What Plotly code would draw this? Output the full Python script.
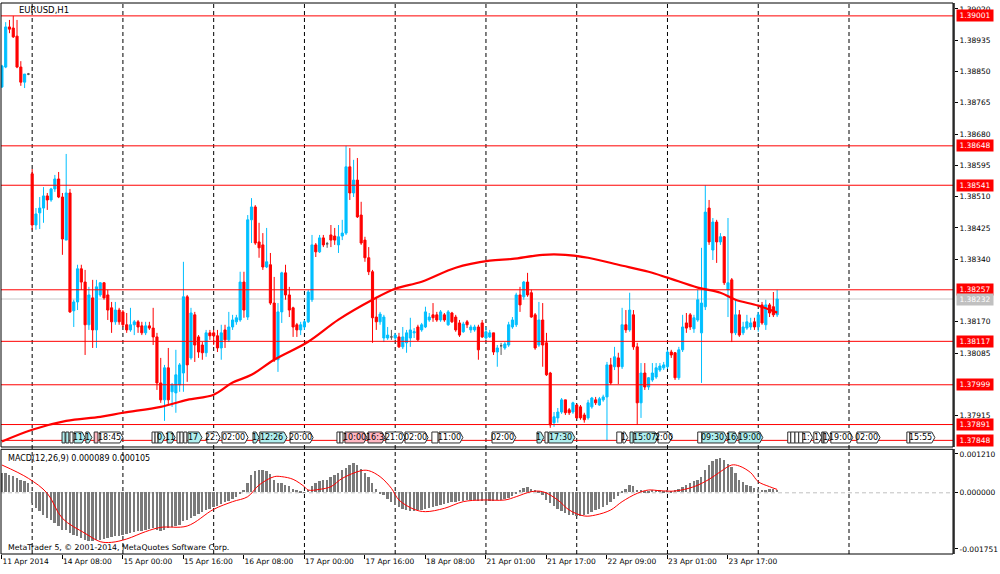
import numpy as np
import plotly.graph_objects as go

# ---------------- data ----------------
bar_open = [
 1.38808,1.38862,1.38971,1.38968,1.38946,1.38862,1.38821,1.38843,1.38572,1.38433,
 1.38466,1.38479,1.38512,1.38501,1.38531,1.38558,1.38509,1.38392,1.38520,1.38200,
 1.38224,1.38314,1.38278,1.38162,1.38235,1.38148,1.38243,1.38276,1.38243,1.38208,
 1.38170,1.38202,1.38197,1.38162,1.38148,1.38162,1.38170,1.38159,1.38140,1.38159,
 1.38153,1.38129,1.38004,1.37958,1.38045,1.37980,1.37977,1.37999,1.38031,1.38238,
 1.38072,1.38189,1.38129,1.38107,1.38086,1.38140,1.38140,1.38132,1.38099,1.38148,
 1.38121,1.38156,1.38170,1.38175,1.38278,1.38183,1.38447,1.38482,1.38387,1.38379,
 1.38319,1.38325,1.38221,1.38067,1.38197,1.38303,1.38243,1.38208,1.38162,1.38148,
 1.38156,1.38170,1.38230,1.38379,1.38360,1.38398,1.38382,1.38406,1.38403,1.38379,
 1.38403,1.38411,1.38591,1.38520,1.38555,1.38460,1.38392,1.38344,1.38306,1.38183,
 1.38170,1.38126,1.38126,1.38129,1.38126,1.38129,1.38102,1.38113,1.38126,1.38140,
 1.38156,1.38148,1.38156,1.38175,1.38189,1.38189,1.38175,1.38189,1.38162,1.38194,
 1.38183,1.38167,1.38143,1.38170,1.38148,1.38148,1.38156,1.38167,1.38126,1.38129,
 1.38140,1.38088,1.38105,1.38099,1.38107,1.38156,1.38162,1.38243,1.38238,1.38278,
 1.38249,1.38189,1.38107,1.38175,1.38113,1.38031,1.37896,1.37909,1.37925,1.37958,
 1.37931,1.37925,1.37944,1.37939,1.37917,1.37909,1.37939,1.37958,1.37944,1.37958,
 1.37966,1.38053,1.38048,1.38072,1.38048,1.38162,1.38148,1.38189,1.38102,1.37950,
 1.38031,1.37993,1.38012,1.38020,1.38039,1.38045,1.38048,1.38088,1.38086,1.38018,
 1.38094,1.38167,1.38189,1.38151,1.38175,1.38140,1.38211,1.38479,1.38365,1.38441,
 1.38387,1.38401,1.38257,1.38284,1.38140,1.38189,1.38140,1.38153,1.38156,1.38170,
 1.38156,1.38216,1.38162,1.38216,1.38211,1.38189]
bar_high = [
 1.38868,1.38984,1.38990,1.39001,1.38990,1.38878,1.38843,1.38846,1.38585,1.38479,
 1.38509,1.38536,1.38520,1.38534,1.38569,1.38577,1.38520,1.38626,1.38531,1.38230,
 1.38325,1.38325,1.38311,1.38265,1.38284,1.38284,1.38278,1.38278,1.38257,1.38224,
 1.38224,1.38208,1.38202,1.38194,1.38208,1.38175,1.38175,1.38170,1.38170,1.38170,
 1.38208,1.38140,1.38072,1.38053,1.38099,1.38004,1.38094,1.38058,1.38333,1.38243,
 1.38208,1.38197,1.38134,1.38115,1.38148,1.38148,1.38148,1.38148,1.38162,1.38162,
 1.38197,1.38189,1.38189,1.38306,1.38306,1.38460,1.38506,1.38487,1.38439,1.38411,
 1.38425,1.38357,1.38292,1.38221,1.38306,1.38325,1.38265,1.38211,1.38167,1.38170,
 1.38175,1.38257,1.38406,1.38384,1.38406,1.38406,1.38387,1.38433,1.38425,1.38433,
 1.38447,1.38648,1.38642,1.38610,1.38615,1.38496,1.38401,1.38373,1.38311,1.38238,
 1.38197,1.38189,1.38156,1.38148,1.38140,1.38140,1.38156,1.38148,1.38181,1.38153,
 1.38162,1.38167,1.38211,1.38194,1.38221,1.38197,1.38202,1.38194,1.38202,1.38197,
 1.38189,1.38175,1.38170,1.38175,1.38162,1.38162,1.38162,1.38175,1.38156,1.38148,
 1.38140,1.38107,1.38113,1.38115,1.38170,1.38183,1.38249,1.38265,1.38281,1.38303,
 1.38257,1.38194,1.38224,1.38221,1.38140,1.38034,1.37925,1.37936,1.37963,1.37958,
 1.37936,1.37953,1.37947,1.37944,1.37923,1.37958,1.37966,1.37966,1.37966,1.37972,
 1.38061,1.38072,1.38102,1.38086,1.38208,1.38202,1.38249,1.38202,1.38113,1.38058,
 1.38058,1.38020,1.38058,1.38058,1.38058,1.38061,1.38094,1.38094,1.38088,1.38102,
 1.38189,1.38194,1.38194,1.38189,1.38257,1.38371,1.38541,1.38501,1.38452,1.38447,
 1.38411,1.38403,1.38452,1.38289,1.38230,1.38202,1.38170,1.38189,1.38181,1.38181,
 1.38197,1.38224,1.38230,1.38221,1.38251,1.38257]
bar_low = [
 1.38805,1.38859,1.38954,1.38941,1.38859,1.38811,1.38805,1.38840,1.38420,1.38420,
 1.38422,1.38439,1.38474,1.38496,1.38523,1.38506,1.38352,1.38392,1.38194,1.38156,
 1.38202,1.38257,1.38080,1.38148,1.38099,1.38099,1.38238,1.38230,1.38175,1.38140,
 1.38162,1.38162,1.38156,1.38140,1.38143,1.38134,1.38140,1.38134,1.38134,1.38148,
 1.38107,1.37985,1.37950,1.37901,1.37944,1.37939,1.37923,1.37980,1.37980,1.38007,
 1.38067,1.38061,1.38072,1.38067,1.38075,1.38121,1.38107,1.38088,1.38067,1.38099,
 1.38115,1.38148,1.38162,1.38170,1.38181,1.38175,1.38384,1.38379,1.38344,1.38311,
 1.38316,1.38216,1.38061,1.38034,1.38167,1.38230,1.38183,1.38129,1.38129,1.38134,
 1.38148,1.38167,1.38224,1.38346,1.38357,1.38373,1.38371,1.38373,1.38379,1.38357,
 1.38392,1.38406,1.38501,1.38509,1.38452,1.38379,1.38333,1.38297,1.38113,1.38148,
 1.38162,1.38115,1.38121,1.38121,1.38121,1.38099,1.38096,1.38086,1.38102,1.38126,
 1.38118,1.38143,1.38153,1.38170,1.38170,1.38170,1.38170,1.38170,1.38159,1.38167,
 1.38143,1.38129,1.38140,1.38153,1.38140,1.38143,1.38067,1.38126,1.38121,1.38126,
 1.38080,1.38048,1.38080,1.38094,1.38102,1.38151,1.38156,1.38197,1.38230,1.38238,
 1.38181,1.38094,1.38102,1.38048,1.38023,1.37882,1.37885,1.37896,1.37920,1.37917,
 1.37917,1.37920,1.37906,1.37904,1.37896,1.37904,1.37934,1.37944,1.37942,1.37953,
 1.37848,1.37999,1.38039,1.38001,1.38042,1.38140,1.38143,1.38094,1.37890,1.37909,
 1.37985,1.37985,1.38007,1.38015,1.38034,1.38039,1.38042,1.38072,1.38012,1.38012,
 1.38088,1.38140,1.38148,1.38140,1.38170,1.38004,1.38202,1.38379,1.38338,1.38330,
 1.38379,1.38270,1.38183,1.38115,1.38134,1.38129,1.38134,1.38148,1.38148,1.38148,
 1.38143,1.38162,1.38148,1.38183,1.38183,1.38183]
bar_close = [
 1.38865,1.38971,1.38965,1.38944,1.38862,1.38821,1.38843,1.38843,1.38433,1.38463,
 1.38479,1.38512,1.38501,1.38531,1.38558,1.38509,1.38395,1.38520,1.38197,1.38224,
 1.38314,1.38278,1.38162,1.38243,1.38148,1.38265,1.38276,1.38235,1.38202,1.38170,
 1.38202,1.38170,1.38162,1.38148,1.38162,1.38170,1.38156,1.38140,1.38159,1.38153,
 1.38129,1.38004,1.37958,1.38045,1.37958,1.37999,1.38026,1.38053,1.38238,1.38053,
 1.38194,1.38107,1.38088,1.38086,1.38140,1.38132,1.38132,1.38099,1.38140,1.38121,
 1.38156,1.38175,1.38181,1.38278,1.38202,1.38447,1.38482,1.38384,1.38371,1.38319,
 1.38333,1.38221,1.38067,1.38197,1.38303,1.38243,1.38202,1.38156,1.38148,1.38162,
 1.38170,1.38251,1.38379,1.38360,1.38398,1.38379,1.38382,1.38392,1.38392,1.38401,
 1.38411,1.38591,1.38520,1.38555,1.38455,1.38384,1.38344,1.38306,1.38181,1.38170,
 1.38191,1.38183,1.38134,1.38129,1.38134,1.38102,1.38129,1.38140,1.38148,1.38143,
 1.38121,1.38162,1.38197,1.38183,1.38181,1.38175,1.38197,1.38175,1.38197,1.38170,
 1.38148,1.38134,1.38164,1.38162,1.38156,1.38156,1.38094,1.38129,1.38143,1.38140,
 1.38088,1.38099,1.38105,1.38110,1.38162,1.38175,1.38243,1.38216,1.38278,1.38243,
 1.38183,1.38099,1.38175,1.38107,1.38026,1.37890,1.37912,1.37925,1.37958,1.37923,
 1.37923,1.37950,1.37909,1.37909,1.37904,1.37950,1.37963,1.37950,1.37961,1.37966,
 1.38053,1.38004,1.38075,1.38048,1.38162,1.38148,1.38202,1.38102,1.37950,1.38031,
 1.37993,1.38018,1.38031,1.38045,1.38050,1.38053,1.38088,1.38080,1.38018,1.38094,
 1.38156,1.38153,1.38156,1.38181,1.38230,1.38221,1.38468,1.38387,1.38441,1.38387,
 1.38401,1.38276,1.38276,1.38140,1.38189,1.38134,1.38156,1.38170,1.38167,1.38156,
 1.38189,1.38167,1.38216,1.38194,1.38189,1.38232]

ma_bar = [0,8,17,26,32,42,49,56,61,66,72,81,89,98,104,111,120,129,135,143,
          149,155,163,171,176,184,190,194,200,205]
ma_value = [1.37845,1.37877,1.37901,1.37912,1.37923,1.37939,1.37958,1.37972,1.38005,1.38026,
            1.38067,1.38116,1.38176,1.38230,1.38260,1.38279,1.38317,1.38336,1.38341,1.38352,
            1.38352,1.38344,1.38325,1.38306,1.38290,1.38263,1.38249,1.38230,1.38214,1.38195]

macd_main = [
 0.000607,0.000607,0.000555,0.000503,0.000451,0.000399,0.000347,0.000295,-0.000328,-0.000484,
 -0.000588,-0.000692,-0.000796,-0.000848,-0.000952,-0.001056,-0.001160,-0.001160,-0.001263,-0.001315,
 -0.001367,-0.001419,-0.001471,-0.001523,-0.001523,-0.001492,-0.001471,-0.001440,-0.001419,-0.001388,
 -0.001367,-0.001346,-0.001315,-0.001284,-0.001263,-0.001242,-0.001211,-0.001190,-0.001160,-0.001128,
 -0.001108,-0.001160,-0.001211,-0.001160,-0.001108,-0.001077,-0.001056,-0.001004,-0.000900,-0.000848,
 -0.000796,-0.000723,-0.000671,-0.000619,-0.000557,-0.000515,-0.000453,-0.000411,-0.000349,-0.000307,
 -0.000256,-0.000204,-0.000141,-0.000037,0.000066,0.000295,0.000555,0.000659,0.000690,0.000690,
 0.000659,0.000586,0.000399,0.000295,0.000295,0.000243,0.000191,0.000108,0.000066,0.000035,
 0.000004,0.000066,0.000212,0.000295,0.000347,0.000399,0.000399,0.000482,0.000534,0.000607,
 0.000690,0.000763,0.000846,0.000918,0.000867,0.000731,0.000607,0.000482,0.000295,0.000108,
 -0.000017,-0.000089,-0.000204,-0.000297,-0.000391,-0.000453,-0.000515,-0.000557,-0.000588,-0.000588,
 -0.000557,-0.000536,-0.000505,-0.000484,-0.000453,-0.000411,-0.000380,-0.000349,-0.000328,-0.000307,
 -0.000287,-0.000266,-0.000256,-0.000245,-0.000245,-0.000245,-0.000256,-0.000266,-0.000266,-0.000256,
 -0.000256,-0.000245,-0.000224,-0.000193,-0.000162,-0.000100,-0.000017,0.000066,0.000139,0.000160,
 0.000118,0.000066,0.000025,-0.000079,-0.000224,-0.000339,-0.000432,-0.000515,-0.000588,-0.000640,
 -0.000692,-0.000713,-0.000723,-0.000723,-0.000713,-0.000671,-0.000619,-0.000557,-0.000515,-0.000453,
 -0.000380,-0.000307,-0.000204,-0.000100,0.000025,0.000108,0.000233,0.000191,0.000087,0.000066,
 0.000035,0.000056,0.000066,0.000066,0.000066,0.000056,0.000066,0.000056,0.000066,0.000108,
 0.000160,0.000243,0.000295,0.000347,0.000399,0.000482,0.000711,0.000867,0.000970,0.001043,
 0.001074,0.001002,0.000898,0.000794,0.000607,0.000399,0.000316,0.000243,0.000191,0.000139,
 0.000108,0.000087,0.000087,0.000108,0.000108,0.000089]

signal_bar = [0,7,12,16,22,26,29,33,38,42,49,56,61,65,68,72,74,77,80,81,84,87,90,95,97,100,
              103,105,109,112,117,122,127,133,136,140,143,147,150,154,157,161,164,168,171,174,
              178,183,187,190,193,195,198,200,203,205]
signal_value = [0.000867,0.000451,-0.000017,-0.000796,-0.001263,-0.001523,-0.001544,-0.001440,
                -0.001211,-0.001077,-0.001035,-0.000515,-0.000276,-0.000121,0.000243,0.000503,
                0.000503,0.000420,0.000191,0.000087,0.000108,0.000191,0.000451,0.000690,0.000690,
                0.000503,0.000139,-0.000224,-0.000515,-0.000588,-0.000484,-0.000276,-0.000224,
                -0.000224,-0.000121,0.000035,0.000035,-0.000224,-0.000536,-0.000723,-0.000692,
                -0.000536,-0.000276,-0.000017,0.000087,0.000066,0.000056,0.000191,0.000420,
                0.000659,0.000867,0.000835,0.000628,0.000347,0.000191,0.000105]

xtick_bar = [0,16,32,48,64,80,96,112,128,144,160,176,192]
xtick_text = ["11 Apr 2014","14 Apr 08:00","15 Apr 00:00","15 Apr 16:00","16 Apr 08:00",
              "17 Apr 00:00","17 Apr 16:00","18 Apr 08:00","21 Apr 01:00","21 Apr 17:00",
              "22 Apr 09:00","23 Apr 01:00","23 Apr 17:00"]
price_ticks = [1.39020,1.38935,1.38850,1.38765,1.38680,1.38595,1.38510,1.38425,1.38340,
               1.38170,1.38085,1.37915]
macd_ticks = [0.001210, 0.0, -0.001751]
macd_tick_text = ["0.001210", "0.000000", "-0.001751"]
level_prices = [1.39001,1.38648,1.38541,1.38257,1.38117,1.37999,1.37891,1.37848]
bid_price = 1.38232
day_sep_bar = [8,32,56,80,104,128,152,176,200,224]

event_start = [15.9,16.9,18.0,19.1,22.2,24.4,25.9,39.7,40.5,41.3,43.7,46.3,47.1,48.1,49.2,
               54.2,58.2,66.4,68.2,76.2,88.6,89.4,90.7,96.8,101.5,106.6,113.7,115.6,129.6,
               141.5,143.6,144.6,162.6,164.2,166.1,167.1,173.5,184.0,185.1,192.0,194.9,
               207.8,208.6,209.7,210.7,211.8,214.7,216.8,217.4,219.2,226.1,239.3,240.1]
event_end = [16.7,17.7,18.8,22.0,23.8,25.4,32.0,40.5,41.3,43.1,45.8,47.1,47.9,48.9,52.9,
             57.7,65.1,68.0,75.4,82.3,89.4,90.2,96.5,101.3,106.6,112.7,115.3,121.9,135.9,
             143.3,144.4,151.5,163.9,165.5,166.9,173.5,177.2,185.1,191.7,194.6,201.2,
             208.6,209.7,210.7,211.8,214.4,216.8,217.4,218.9,225.0,232.2,240.1,246.7]
event_text = ['','','','11','1','','18:45','','','0','11','','','','17',
              '22:','02:00','1','12:26','20:00','','','10:00','16:3','21:0','02:00','','11:00','02:00',
              '1','','17:30','','1','','15:07','2:00','','09:30','16','19:00',
              '','','','','1:','1','','1','19:00','02:00','','15:55']
event_kind = ['c','c','w','c','c','p','w','w','w','c','c','w','w','w','c',
              'w','w','c','c','w','w','w','p','p','w','w','w','w','w',
              'c','w','c','w','w','c','c','w','w','c','c','c',
              'w','w','w','w','w','w','g','w','w','w','w','w']

# ---------------- styling ----------------
BULL = '#00BFFF'
BEAR = '#FF0000'
DOJI = '#5a5a5a'
FONT = 'DejaVu Sans'
FS = 7.5
KIND_COLOR = {'c': '#AFEEEE', 'p': '#FFB6C1', 'w': '#FFFFFF', 'g': '#A0A0A0'}

MAIN_DOM = [0.1942, 1.0]
MACD_DOM = [0.0, 0.19]

o = np.array(bar_open); h = np.array(bar_high); l = np.array(bar_low); c = np.array(bar_close)
idx = np.arange(len(c))

fig = go.Figure()

for mask, col in [(c > o, BULL), (c < o, BEAR), (c == o, DOJI)]:
    fig.add_trace(go.Candlestick(
        x=idx[mask], open=o[mask], high=h[mask], low=l[mask], close=c[mask],
        increasing=dict(line=dict(color=col, width=1), fillcolor=col),
        decreasing=dict(line=dict(color=col, width=1), fillcolor=col),
        whiskerwidth=0, showlegend=False, hoverinfo='skip', xaxis='x', yaxis='y'))

fig.add_trace(go.Scatter(x=ma_bar, y=ma_value, mode='lines', line=dict(color='#FF0000', width=2.2, shape='spline'),
                         showlegend=False, hoverinfo='skip', xaxis='x', yaxis='y'))

fig.add_trace(go.Bar(x=idx, y=macd_main, width=0.5, marker=dict(color='#7a7a7a', line=dict(width=0)),
                     showlegend=False, hoverinfo='skip', xaxis='x', yaxis='y2'))
fig.add_trace(go.Scatter(x=signal_bar, y=signal_value, mode='lines',
                         line=dict(color='#FF0000', width=1, shape='spline'),
                         showlegend=False, hoverinfo='skip', xaxis='x', yaxis='y2'))

shapes = []
for s in day_sep_bar:
    shapes.append(dict(type='line', xref='x', yref='paper', x0=s, x1=s, y0=0, y1=1,
                       line=dict(color='black', width=1, dash='4px,3px'), layer='below'))
shapes.append(dict(type='line', xref='paper', yref='y2', x0=0, x1=1, y0=0, y1=0,
                   line=dict(color='#C0C0C0', width=1, dash='4px,3px'), layer='below'))
shapes.append(dict(type='line', xref='paper', yref='y', x0=0, x1=1, y0=bid_price, y1=bid_price,
                   line=dict(color='#C8C8C8', width=1), layer='below'))
for p in level_prices:
    shapes.append(dict(type='line', xref='paper', yref='y', x0=0, x1=1, y0=p, y1=p,
                       line=dict(color='#FF0000', width=1)))

yb, yt = 0.2015, 0.2214
ym = (yb + yt) / 2
annotations = []
for x0, x1, t, k in zip(event_start, event_end, event_text, event_kind):
    col = KIND_COLOR[k]
    if t:
        tip = 0.8
        path = f"M {x0},{yb} L {x1 - tip},{yb} L {x1},{ym} L {x1 - tip},{yt} L {x0},{yt} Z"
        shapes.append(dict(type='path', xref='x', yref='paper', path=path,
                           fillcolor=col, line=dict(color='#303030', width=1)))
        annotations.append(dict(x=(x0 + x1 - tip) / 2, y=ym, xref='x', yref='paper', text=t,
                                showarrow=False, font=dict(family=FONT, size=8, color='black'),
                                xanchor='center', yanchor='middle'))
    else:
        shapes.append(dict(type='rect', xref='x', yref='paper', x0=x0, x1=x1, y0=yb, y1=yt,
                           fillcolor=col, line=dict(color='#303030', width=1)))

shapes.append(dict(type='rect', xref='paper', yref='paper', x0=0, x1=1, y0=MAIN_DOM[0], y1=MAIN_DOM[1],
                   line=dict(color='black', width=1)))
shapes.append(dict(type='rect', xref='paper', yref='paper', x0=0, x1=1, y0=MACD_DOM[0], y1=MACD_DOM[1],
                   line=dict(color='black', width=1)))

for p in level_prices:
    annotations.append(dict(x=1, y=p, xref='paper', yref='y', text=f"{p:.5f}", showarrow=False,
                            xanchor='left', yanchor='middle', xshift=3, bgcolor='#FF0000',
                            font=dict(family=FONT, size=FS, color='white'), borderpad=1, width=34, height=9))
annotations.append(dict(x=1, y=bid_price, xref='paper', yref='y', text=f"{bid_price:.5f}", showarrow=False,
                        xanchor='left', yanchor='middle', xshift=3, bgcolor='#C0C0C0',
                        font=dict(family=FONT, size=FS, color='white'), borderpad=1, width=34, height=9))

annotations += [
    dict(x=0.0168, y=0.9873, xref='paper', yref='paper', text='EURUSD,H1', showarrow=False,
         xanchor='left', yanchor='middle', font=dict(family=FONT, size=8.5, color='black')),
    dict(x=0.0053, y=0.1742, xref='paper', yref='paper', text='MACD(12,26,9) 0.000089 0.000105',
         showarrow=False, xanchor='left', yanchor='middle', font=dict(family=FONT, size=8, color='black')),
    dict(x=0.0053, y=0.0127, xref='paper', yref='paper',
         text='MetaTrader 5, © 2001-2014, MetaQuotes Software Corp.', showarrow=False,
         xanchor='left', yanchor='middle', font=dict(family=FONT, size=7.8, color='black')),
]

tickfont = dict(family=FONT, size=FS, color='black')
fig.update_layout(
    width=1000, height=574, margin=dict(l=1, r=47, t=3, b=20, autoexpand=False),
    paper_bgcolor='white', plot_bgcolor='white', showlegend=False,
    boxgap=0.25, boxgroupgap=0.25, bargap=0,
    xaxis=dict(domain=[0, 1], anchor='y2', range=[-0.24, 251.5], tickmode='array',
               tickvals=xtick_bar, ticktext=xtick_text, ticks='outside', ticklen=4, tickcolor='black',
               tickangle=0, ticklabelposition='outside right', automargin=False,
               showgrid=False, zeroline=False, showline=False,
               rangeslider=dict(visible=False), tickfont=tickfont, fixedrange=True),
    yaxis=dict(domain=MAIN_DOM, anchor='x', side='right', range=[1.37830, 1.39036], tickmode='array',
               tickvals=price_ticks, ticktext=[f"{v:.5f}" for v in price_ticks], ticks='outside',
               ticklen=3, tickcolor='black', showgrid=False, zeroline=False, showline=True,
               linecolor='#505050', linewidth=2, tickfont=tickfont, automargin=False),
    yaxis2=dict(domain=MACD_DOM, anchor='x', side='right', range=[-0.001908, 0.001356], tickmode='array',
                tickvals=macd_ticks, ticktext=macd_tick_text, ticks='outside', ticklen=3, tickcolor='black',
                showgrid=False, zeroline=False, showline=True, linecolor='#505050', linewidth=2,
                tickfont=tickfont, automargin=False),
    shapes=shapes, annotations=annotations,
)

fig.write_html("out.html", config={'displayModeBar': False},
               post_script="document.body.style.margin='0px';document.body.style.padding='0px';")
